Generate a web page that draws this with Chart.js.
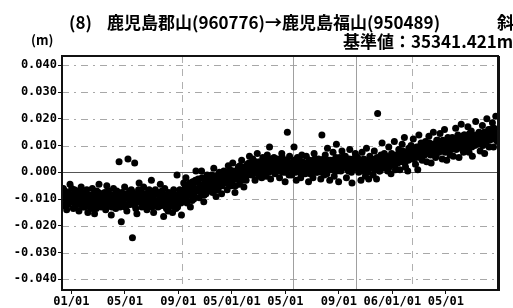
<!DOCTYPE html>
<html>
<head>
<meta charset="utf-8">
<script src="https://cdn.jsdelivr.net/npm/chart.js@4"></script>
<style>
  html, body { margin: 0; padding: 0; background: #fff; }
  #chart { display: block; }
</style>
</head>
<body>
<canvas id="chart" width="513" height="308"></canvas>
<script>
// baseline length change in mm, one row per month, two interleaved sample sets
const startMonth = -0.6;          // months from 2004-01-01
const offsetMm = [
  [-6.0, -12.5, -9.0, -14.0, -7.5, -10.5, -4.5, -11.0, -8.5, -13.5, -6.5, -10.0],
  [-12.0, -7.0, -14.5, -9.5, -5.5, -11.5, -8.0, -13.0, -10.5, -6.5, -15.0, -9.0],
  [-8.5, -13.5, -6.0, -11.0, -15.5, -9.5, -7.0, -12.0, -4.5, -10.5, -13.0, -8.0],
  [-11.5, -7.5, -14.0, -5.0, -10.0, -12.5, -8.5, -16.0, -9.0, -6.0, -11.0, -13.5],
  [-7.0, -10.5, 4.0, -13.0, -18.5, -8.0, -11.5, -5.5, -9.5, -14.5, 5.0, -10.0],
  [-12.0, -6.5, -24.5, -9.5, 3.5, -13.5, -15.5, -8.0, -4.0, -11.0, -7.5, -10.5],
  [-5.5, -11.5, -8.5, -14.0, -10.0, -6.5, -12.5, -3.0, -9.0, -15.0, -7.0, -11.0],
  [-10.5, -13.0, -7.5, -4.5, -11.5, -9.0, -16.5, -6.0, -12.0, -8.5, -14.5, -10.0],
  [-8.0, -12.5, -15.0, -6.5, -10.5, -13.5, -1.0, -9.5, -11.5, -7.0, -16.0, -9.0],
  [-4.0, -9.0, -2.0, -11.5, -7.0, -5.0, -13.0, -8.0, -3.5, -10.0, -6.0, 0.5],
  [-7.0, -2.5, -9.5, -5.0, 0.5, -6.5, -11.0, -3.5, -8.0, -1.0, -5.5, -4.0],
  [-5.5, -1.0, -7.5, 1.5, -3.5, -9.0, -2.0, -6.0, 0.0, -4.5, -8.0, -2.5],
  [0.5, -4.0, -1.0, -6.5, 2.5, -3.0, -0.5, -5.0, 3.5, -2.0, -7.5, -1.5],
  [-2.5, 2.0, -4.5, 0.5, 4.5, -1.5, -5.5, 1.5, -3.0, 3.0, -0.5, 6.0],
  [3.5, -1.0, 5.0, 0.0, -3.0, 2.5, 7.0, -0.5, 4.0, 1.0, -2.0, 5.5],
  [0.5, 4.5, -1.5, 6.5, 2.0, 9.5, -2.5, 3.5, 1.0, 5.5, -0.5, 3.0],
  [5.0, 1.0, -2.0, 3.5, 7.0, 0.0, 4.5, -3.5, 2.5, 15.0, 1.5, 6.0],
  [1.5, -1.0, 4.0, 9.5, 2.0, -3.0, 5.5, 0.5, 3.0, -2.0, 6.5, 2.5],
  [3.5, -0.5, 6.0, 1.5, -3.5, 4.5, 0.0, 2.5, -2.0, 7.0, 1.0, 4.0],
  [0.0, 5.0, 2.0, -2.5, 14.0, 3.5, -1.0, 6.5, 1.5, 9.0, 4.0, -3.0],
  [4.5, 1.0, 7.5, -1.5, 3.0, 10.5, 2.0, -3.5, 5.5, 0.5, 8.0, 3.5],
  [2.0, 6.0, -2.0, 4.0, 0.5, 8.5, 3.0, -4.0, 5.0, 1.5, 7.0, 2.5],
  [5.5, 0.0, 3.5, -3.0, 7.5, 1.0, 4.5, -1.5, 9.0, 2.0, -2.5, 6.0],
  [1.5, 5.0, -1.0, 8.0, 3.0, -2.5, 22.0, 4.5, 0.5, 6.5, 11.0, 2.0],
  [7.0, 2.5, 5.5, 0.5, 9.5, 4.0, -0.5, 6.5, 3.0, 11.5, 1.0, 5.0],
  [3.5, 8.5, 1.0, 6.0, 10.5, 4.5, 13.0, 2.0, 7.5, 0.5, 9.0, 5.5],
  [10.0, 5.0, 12.5, 7.0, 3.0, 9.5, 1.0, 14.0, 6.0, 11.0, 4.5, 8.5],
  [6.5, 11.5, 4.0, 9.0, 13.5, 7.5, 3.5, 10.5, 15.0, 8.0, 5.5, 12.0],
  [12.0, 7.5, 14.5, 10.0, 5.0, 11.5, 16.0, 8.5, 4.5, 13.0, 9.0, 6.5],
  [8.5, 13.0, 6.0, 11.5, 16.5, 9.5, 14.0, 5.5, 12.0, 18.0, 10.0, 7.5],
  [14.0, 9.0, 12.5, 17.0, 7.5, 11.0, 15.5, 6.0, 13.5, 10.0, 19.0, 12.0],
  [10.5, 15.0, 8.0, 13.5, 17.5, 11.0, 7.0, 14.5, 20.0, 12.5, 9.5, 16.0],
  [13.0, 18.5, 9.5, 15.5, 21.0, 12.0]
];
// second sample set, half a slot later in each month
const offsetMmB = [
  [-9.5, -7.0, -11.5, -8.0, -12.0, -9.0, -10.5, -6.0, -11.0, -8.5, -12.5, -9.5],
  [-10.0, -8.5, -12.0, -10.5, -7.5, -13.0, -9.0, -11.0, -8.0, -12.5, -10.0, -11.5],
  [-11.0, -9.0, -12.5, -8.0, -10.5, -13.5, -9.5, -7.5, -11.5, -10.0, -8.5, -12.0],
  [-9.0, -12.0, -8.0, -10.5, -7.0, -11.5, -9.5, -13.0, -8.5, -10.0, -12.0, -7.5],
  [-11.0, -8.5, -12.5, -9.0, -7.5, -11.0, -10.0, -13.0, -8.0, -9.5, -12.0, -7.0],
  [-9.0, -11.5, -7.5, -10.5, -12.5, -8.5, -10.0, -6.5, -11.0, -9.5, -13.0, -8.0],
  [-10.5, -8.0, -12.0, -9.5, -7.0, -11.0, -9.0, -13.0, -8.5, -10.5, -6.5, -12.5],
  [-8.0, -11.0, -9.5, -12.5, -7.0, -10.0, -8.5, -11.5, -13.5, -9.0, -7.5, -12.0],
  [-11.0, -9.0, -7.5, -12.0, -10.0, -8.5, -13.0, -9.5, -6.5, -11.5, -8.0, -10.5],
  [-7.5, -5.5, -9.5, -6.0, -8.5, -4.0, -7.0, -10.5, -5.0, -8.0, -3.0, -6.5],
  [-3.5, -6.0, -4.5, -7.5, -2.0, -5.0, -8.5, -4.0, -6.5, -3.0, -7.0, -5.0],
  [-2.0, -4.5, -3.0, -5.5, -1.5, -3.5, -6.5, -2.5, -4.0, -1.0, -5.0, -3.0],
  [-2.5, 0.0, -3.0, -1.0, -4.5, 1.0, -2.0, -3.5, 0.5, -1.5, -5.0, -0.5],
  [1.0, -1.5, 2.5, -0.5, -3.0, 0.0, 2.0, -2.0, 1.5, -1.0, 3.5, 0.5],
  [1.0, 3.0, -0.5, 2.0, 4.0, 0.5, 2.5, -1.5, 3.5, 1.5, 0.0, 2.5],
  [3.0, 1.0, 4.0, 2.0, 0.0, 3.5, 5.0, 1.5, 2.5, 4.5, 0.5, 2.0],
  [2.0, 4.0, 0.5, 3.0, 5.5, 1.5, 2.5, 0.0, 4.5, 3.5, -1.0, 2.0],
  [3.5, 1.0, 2.5, 4.5, 0.0, 3.0, 1.5, 5.0, 2.0, -0.5, 4.0, 1.5],
  [1.5, 3.0, 0.5, 2.5, 4.5, -0.5, 2.0, 3.5, 1.0, 5.0, 0.0, 2.5],
  [2.5, 4.0, 1.0, 3.0, 0.0, 5.0, 2.0, 3.5, -0.5, 2.5, 4.5, 1.5],
  [3.0, 1.5, 4.5, 2.5, 5.5, 0.5, 3.5, 2.0, 4.0, 1.0, 3.0, 6.0],
  [4.0, 2.0, 3.5, 1.0, 5.0, 2.5, 0.0, 4.5, 3.0, 1.5, 6.0, 3.5],
  [2.0, 4.0, 1.0, 3.0, 0.5, 5.0, 2.5, 1.5, 3.5, 0.0, 4.5, 2.0],
  [3.5, 2.0, 4.5, 1.0, 3.0, 5.5, 2.5, 0.5, 4.0, 3.0, 1.5, 5.0],
  [4.0, 6.0, 3.0, 5.0, 2.0, 4.5, 7.0, 3.5, 5.5, 2.5, 6.5, 4.0],
  [5.5, 7.0, 4.0, 6.5, 8.0, 5.0, 3.5, 7.5, 6.0, 4.5, 8.5, 5.5],
  [7.0, 9.0, 6.0, 8.0, 5.5, 7.5, 9.5, 6.5, 8.5, 5.0, 7.0, 10.0],
  [9.0, 7.0, 10.0, 8.0, 11.0, 6.5, 9.5, 7.5, 8.5, 10.5, 6.0, 9.0],
  [9.0, 11.0, 8.0, 10.0, 12.0, 9.5, 7.5, 11.5, 10.5, 8.5, 12.5, 9.5],
  [11.0, 9.5, 12.5, 10.0, 8.5, 11.5, 13.0, 10.5, 9.0, 12.0, 10.0, 14.0],
  [11.5, 13.0, 10.0, 12.0, 14.5, 11.0, 9.5, 13.5, 12.5, 10.5, 14.0, 11.5],
  [12.0, 14.0, 11.0, 13.0, 10.0, 15.0, 12.5, 11.5, 13.5, 16.0, 12.0, 14.5],
  [14.0, 12.5, 16.5, 13.5, 15.0, 11.5]
];

const yTicks = [0.04, 0.03, 0.02, 0.01, 0, -0.01, -0.02, -0.03, -0.04];
const xTickMonths = [0, 4, 8, 12, 16, 20, 24, 28];
const xTickLabels = ['01/01', '05/01', '09/01', '05/01/01', '05/01', '09/01', '06/01/01', '05/01'];
const dashedMarkMonths = [8.3, 25.5];
const solidMarkMonths = [16.6, 21.3];

const points = [];
[[offsetMm, 0], [offsetMmB, 1 / 24]].forEach(([rows, shift]) => {
  rows.forEach((row, r) => {
    row.forEach((v, j) => {
      points.push({ x: startMonth + r + j / 12 + shift, y: v / 1000 });
    });
  });
});

const monoFont = { family: '"DejaVu Sans Mono", monospace', size: 12, weight: 'bold' };

const backdrop = {
  id: 'backdrop',
  beforeDatasetsDraw(chart) {
    const { ctx, chartArea: a, scales: { x, y } } = chart;
    ctx.save();
    ctx.lineWidth = 1;
    // horizontal grid
    yTicks.forEach(v => {
      const py = Math.round(y.getPixelForValue(v)) + 0.5;
      ctx.beginPath();
      if (v === 0) {
        ctx.setLineDash([]);
        ctx.strokeStyle = '#555';
      } else {
        ctx.setLineDash([7, 5, 2, 5]);
        ctx.strokeStyle = '#a8a8a8';
      }
      ctx.moveTo(a.left, py);
      ctx.lineTo(a.right, py);
      ctx.stroke();
    });
    // vertical markers
    ctx.strokeStyle = '#b0b0b0';
    ctx.setLineDash([7, 6]);
    dashedMarkMonths.forEach(m => {
      const px = Math.round(x.getPixelForValue(m)) + 0.5;
      ctx.beginPath();
      ctx.moveTo(px, a.top);
      ctx.lineTo(px, a.bottom);
      ctx.stroke();
    });
    ctx.setLineDash([]);
    ctx.strokeStyle = '#a0a0a0';
    solidMarkMonths.forEach(m => {
      const px = Math.round(x.getPixelForValue(m)) + 0.5;
      ctx.beginPath();
      ctx.moveTo(px, a.top);
      ctx.lineTo(px, a.bottom);
      ctx.stroke();
    });
    ctx.restore();
  },
  afterDraw(chart) {
    const { ctx, chartArea: a } = chart;
    ctx.save();
    // frame
    ctx.strokeStyle = '#111';
    ctx.lineWidth = 2;
    ctx.strokeRect(a.left, a.top, a.right - a.left, a.bottom - a.top);
    ctx.lineWidth = 3;
    ctx.beginPath();
    ctx.moveTo(a.right + 0.5, a.top);
    ctx.lineTo(a.right + 0.5, a.bottom + 1);
    ctx.stroke();
    // titles
    ctx.fillStyle = '#000';
    ctx.textBaseline = 'middle';
    ctx.font = 'bold 17px "Noto Sans CJK JP"';
    ctx.fillText('(8)', 69, 23);
    ctx.fillText('鹿児島郡山(960776)→鹿児島福山(950489)', 107, 23);
    ctx.fillText('斜', 497, 23);
    ctx.fillText('基準値：35341.421m', 343, 42);
    ctx.font = 'bold 13px "Noto Sans CJK JP"';
    ctx.fillText('(m)', 31, 40);
    ctx.restore();
  }
};

new Chart(document.getElementById('chart'), {
  type: 'scatter',
  data: {
    datasets: [{
      data: points,
      backgroundColor: '#000',
      borderWidth: 0,
      pointRadius: 3.5,
      pointHoverRadius: 3.5
    }]
  },
  options: {
    responsive: false,
    animation: false,
    devicePixelRatio: 1,
    layout: { padding: { top: 56, right: 15, left: 0, bottom: 0 } },
    plugins: {
      legend: { display: false },
      tooltip: { enabled: false }
    },
    scales: {
      x: {
        type: 'linear',
        min: -0.7,
        max: 31.9,
        afterBuildTicks: s => { s.ticks = xTickMonths.map(v => ({ value: v })); },
        afterFit: s => { s.height = 18; },
        ticks: {
          autoSkip: false,
          maxRotation: 0,
          padding: 1,
          color: '#000',
          font: monoFont,
          callback: (v) => {
            const i = xTickMonths.indexOf(v);
            return i >= 0 ? xTickLabels[i] : '';
          }
        },
        grid: { drawOnChartArea: false, tickLength: 4, color: '#111' },
        border: { display: false }
      },
      y: {
        min: -0.044,
        max: 0.0435,
        afterBuildTicks: s => { s.ticks = yTicks.map(v => ({ value: v })); },
        afterFit: s => { s.width = 62; },
        ticks: {
          padding: 1,
          color: '#000',
          font: monoFont,
          callback: v => v.toFixed(3)
        },
        grid: { drawOnChartArea: false, tickLength: 4, color: '#111' },
        border: { display: false }
      }
    }
  },
  plugins: [backdrop]
});
</script>
</body>
</html>
